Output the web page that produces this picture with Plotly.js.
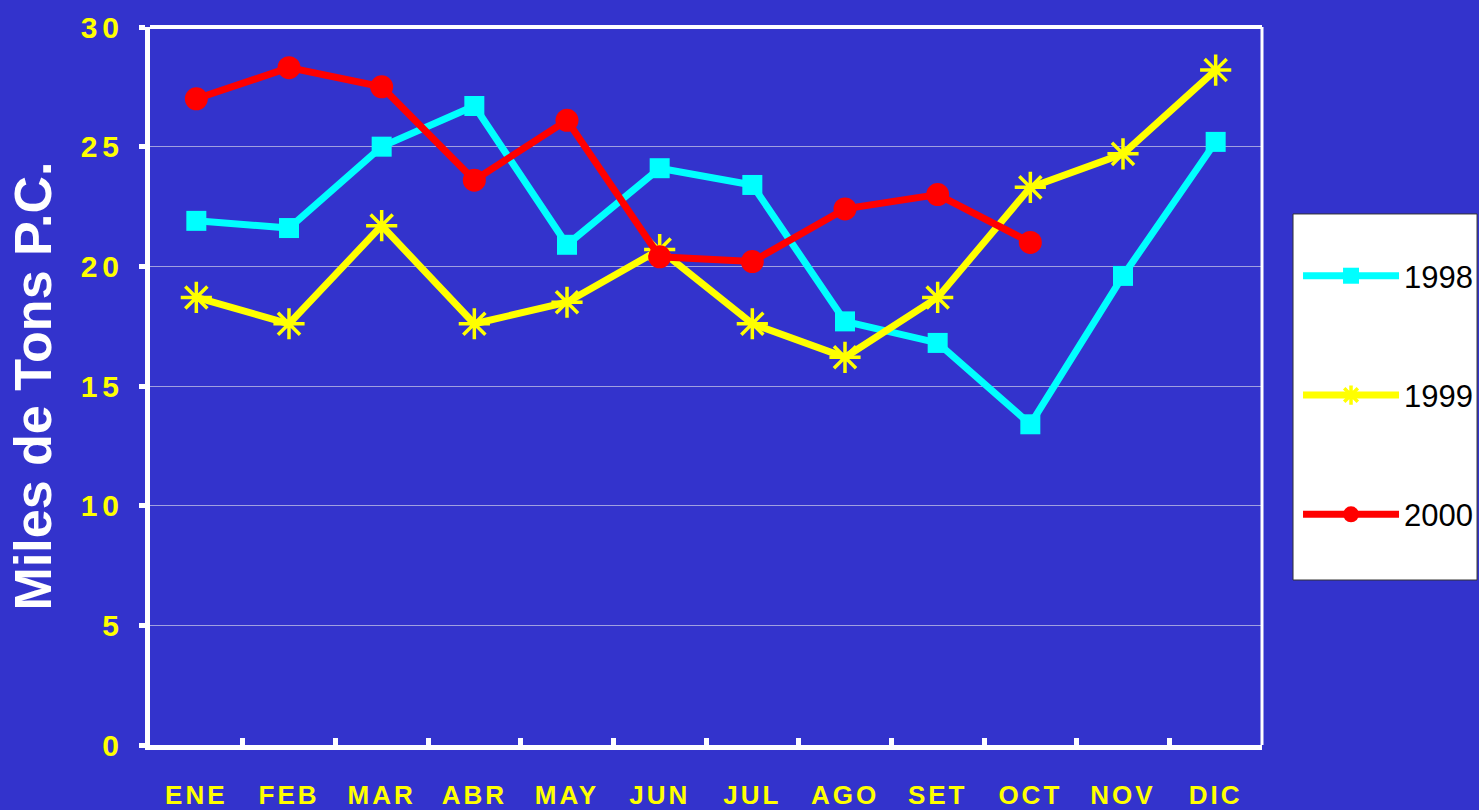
<!DOCTYPE html>
<html>
<head>
<meta charset="utf-8">
<script src="https://cdn.plot.ly/plotly-3.0.1.min.js"></script>
<style>
html,body{margin:0;padding:0;background:#3333CC;}
#chart{width:1479px;height:810px;}
.xtick text{letter-spacing:3px;}
.ytick text{letter-spacing:5px;}
</style>
</head>
<body>
<div id="chart"></div>
<script>
const months = ["ENE","FEB","MAR","ABR","MAY","JUN","JUL","AGO","SET","OCT","NOV","DIC"];
const s1998 = [21.9,21.6,25.0,26.7,20.9,24.1,23.4,17.7,16.8,13.4,19.6,25.2];
const s1999 = [18.7,17.6,21.7,17.6,18.5,20.7,17.6,16.2,18.7,23.3,24.7,28.2];
const s2000 = [27.0,28.3,27.5,23.6,26.1,20.4,20.2,22.4,23.0,21.0];
const yTicks = [0,5,10,15,20,25,30];

const traces = [
  {x: months, y: s1998, name: "1998", type: "scatter", mode: "lines+markers", legendgroup: "a",
   line: {color: "#00FFFF", width: 7}, marker: {symbol: "square", size: 20, color: "#00FFFF"}},
  {x: months, y: s1999, name: "1999", type: "scatter", mode: "lines+markers", legendgroup: "b",
   line: {color: "#FFFF00", width: 7}, marker: {symbol: "asterisk-open", size: 26, color: "#FFFF00", line: {color: "#FFFF00", width: 3.5}}},
  {x: months.slice(0, s2000.length), y: s2000, name: "2000", type: "scatter", mode: "lines+markers", legendgroup: "c",
   line: {color: "#FF0000", width: 7}, marker: {symbol: "circle", size: 23, color: "#FF0000"}}
];

const layout = {
  width: 1479, height: 810,
  paper_bgcolor: "#3333CC", plot_bgcolor: "#3333CC",
  margin: {l: 150, r: 217, t: 27, b: 65, autoexpand: false},
  font: {family: "Liberation Sans, Arial, sans-serif"},
  showlegend: true,
  legend: {
    x: 1.0324, xanchor: "left", y: 0.6907, yanchor: "top",
    bgcolor: "rgba(0,0,0,0)", borderwidth: 0,
    font: {size: 31, color: "#000000", family: "Liberation Sans, Arial, sans-serif"},
    itemwidth: 96, traceorder: "grouped", tracegroupgap: 76
  },
  xaxis: {
    type: "category", range: [-0.5, 11.5], fixedrange: true,
    showline: true, linecolor: "#FFFFFF", linewidth: 5,
    ticks: "inside", tickson: "boundaries", ticklen: 7, tickwidth: 5, tickcolor: "#FFFFFF",
    tickfont: {size: 26, color: "#FFFF00", weight: "bold"},
    ticklabelstandoff: 23,
    showgrid: false, zeroline: false
  },
  yaxis: {
    range: [0, 30], tickvals: yTicks, fixedrange: true,
    showline: true, linecolor: "#FFFFFF", linewidth: 5,
    ticks: "outside", ticklen: 6, tickwidth: 5, tickcolor: "#FFFFFF",
    tickfont: {size: 30, color: "#FFFF00", weight: "bold"},
    ticklabelstandoff: 9,
    showgrid: true, gridcolor: "#A0A0E0", gridwidth: 1, zeroline: false,
    title: {text: "Miles de Tons P.C.", font: {size: 52, color: "#FFFFFF", weight: "bold"}, standoff: 14}
  },
  shapes: [
    {type: "line", xref: "paper", yref: "paper", x0: 0, x1: 1, y0: 1, y1: 1, line: {color: "#FFFFFF", width: 4}},
    {type: "line", xref: "paper", yref: "paper", x0: 1, x1: 1, y0: 0, y1: 1, line: {color: "#FFFFFF", width: 3}},
    {type: "rect", xref: "paper", yref: "paper", x0: 1.0279, x1: 1.1934, y0: 0.2298, y1: 0.7396,
     fillcolor: "#FFFFFF", line: {color: "#333333", width: 1}, layer: "below"}
  ]
};

Plotly.newPlot("chart", traces, layout, {displayModeBar: false, staticPlot: true});
</script>
</body>
</html>
